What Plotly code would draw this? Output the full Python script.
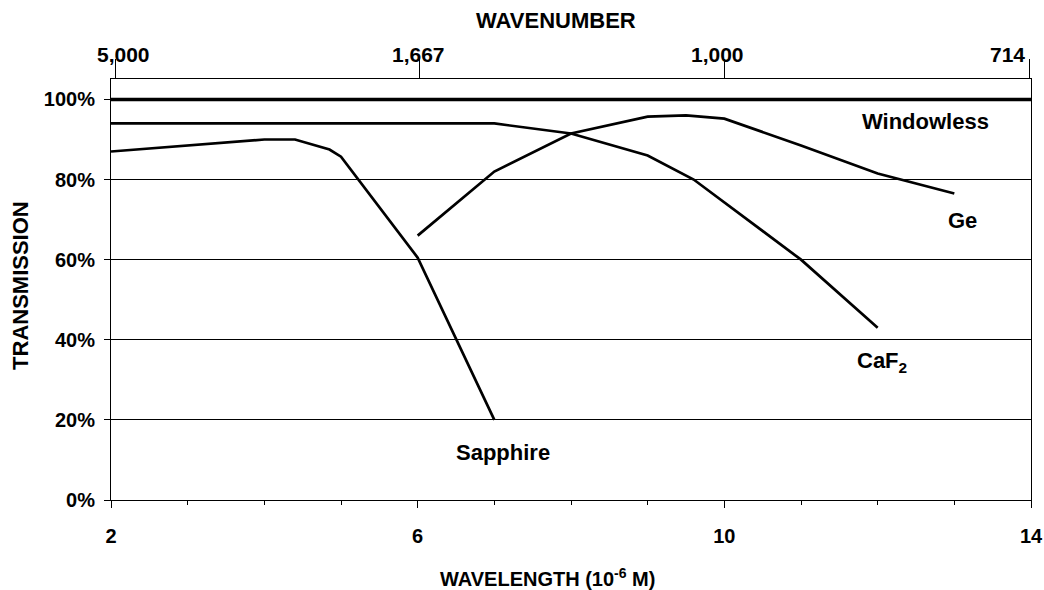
import plotly.graph_objects as go

# ---- data ----
wavelength_ticks = [2, 6, 10, 14]
wavenumber_labels = ["5,000", "1,667", "1,000", "714"]
transmission_ticks = [0, 20, 40, 60, 80, 100]

windowless_x = [2, 14]
windowless_y = [100, 100]

sapphire_x = [2, 3, 4, 4.4, 4.85, 5, 6, 7]
sapphire_y = [87, 88.5, 90, 90, 87.5, 85.7, 60.5, 20]

caf2_x = [2, 7, 8, 9, 9.6, 11, 12]
caf2_y = [94, 94, 91.5, 86, 80, 60, 43]

ge_x = [6, 7, 8, 9, 9.5, 10, 11, 12, 13]
ge_y = [66, 82, 91.5, 95.7, 96, 95.2, 88.5, 81.5, 76.5]

series_labels = ["Windowless", "Ge", "CaF<sub>2</sub>", "Sapphire"]
label_x = [12.62, 13.10, 12.06, 7.11]
label_y = [94.6, 69.9, 34.5, 11.9]

FONT = "Liberation Sans, Arial, sans-serif"
FS = 20
FL = 22

fig = go.Figure()
fig.add_trace(go.Scatter(x=windowless_x, y=windowless_y, mode="lines",
                         line=dict(color="black", width=3.5), showlegend=False, hoverinfo="skip"))
fig.add_trace(go.Scatter(x=sapphire_x, y=sapphire_y, mode="lines",
                         line=dict(color="black", width=2.7), showlegend=False))
fig.add_trace(go.Scatter(x=caf2_x, y=caf2_y, mode="lines",
                         line=dict(color="black", width=2.7), showlegend=False))
fig.add_trace(go.Scatter(x=ge_x, y=ge_y, mode="lines",
                         line=dict(color="black", width=2.7), showlegend=False))
# invisible trace to carry the top wavenumber axis
fig.add_trace(go.Scatter(x=wavelength_ticks, y=[0] * len(wavelength_ticks), xaxis="x2",
                         mode="markers", marker=dict(opacity=0, size=1), hoverinfo="skip", showlegend=False))

annotations = []
for t, x, y in zip(series_labels, label_x, label_y):
    annotations.append(dict(text="<b>%s</b>" % t, x=x, y=y, xref="x", yref="y", showarrow=False,
                            xanchor="center", yanchor="middle", font=dict(family=FONT, size=FL, color="black")))

top_shift = [12, 1, -7, -24]
for t, x, s in zip(wavenumber_labels, wavelength_ticks, top_shift):
    annotations.append(dict(text="<b>%s</b>" % t, x=x, y=1.058, xref="x", yref="paper", showarrow=False,
                            xanchor="center", yanchor="middle", xshift=s,
                            font=dict(family=FONT, size=21, color="black")))

annotations.append(dict(text="<b>WAVENUMBER</b>", x=0.4835, y=1.140, xref="paper", yref="paper",
                        showarrow=False, xanchor="center", yanchor="middle",
                        font=dict(family=FONT, size=FL, color="black")))
annotations.append(dict(text="<b>WAVELENGTH (10<sup>-6</sup> M)</b>", x=0.4747, y=-0.183, xref="paper",
                        yref="paper", showarrow=False, xanchor="center", yanchor="middle",
                        font=dict(family=FONT, size=FS, color="black")))
annotations.append(dict(text="<b>TRANSMISSION</b>", x=-0.0982, y=0.51, xref="paper", yref="paper",
                        showarrow=False, xanchor="center", yanchor="middle", textangle=-90,
                        font=dict(family=FONT, size=FL, color="black")))

fig.update_layout(
    width=1044, height=590,
    margin=dict(l=111, r=13, t=79, b=90, autoexpand=False),
    paper_bgcolor="white", plot_bgcolor="white",
    font=dict(family=FONT, size=FS, color="black"),
    annotations=annotations,
    xaxis=dict(range=[2, 14], tickmode="array", tickvals=wavelength_ticks,
               ticktext=["<b>%d</b>" % v for v in wavelength_ticks],
               ticks="outside", ticklen=7, tickwidth=1, tickcolor="black",
               minor=dict(tickmode="linear", tick0=2, dtick=1, ticks="outside", ticklen=4,
                          tickcolor="black", tickwidth=1, showgrid=False),
               showline=True, linecolor="black", linewidth=1, mirror=True, automargin=False,
               showgrid=False, zeroline=False, ticklabelstandoff=11,
               tickfont=dict(family=FONT, size=FS, color="black")),
    xaxis2=dict(overlaying="x", side="top", range=[1.942, 14.026], tickmode="array",
                tickvals=wavelength_ticks, showticklabels=False, ticks="outside", ticklen=19,
                tickwidth=1, tickcolor="black", showgrid=False, showline=False, zeroline=False,
                automargin=False),
    yaxis=dict(range=[0, 105.1], tickmode="array", tickvals=transmission_ticks,
               ticktext=["<b>%d%%</b>" % v for v in transmission_ticks],
               ticks="outside", ticklen=6, tickwidth=1, tickcolor="black",
               showgrid=True, gridcolor="black", gridwidth=1,
               showline=True, linecolor="black", linewidth=1, mirror=True,
               zeroline=False, ticklabelstandoff=5, automargin=False,
               tickfont=dict(family=FONT, size=FS, color="black")),
)

fig.write_html("out.html", config={"displayModeBar": False},
               post_script="document.body.style.margin='0';document.body.style.overflow='hidden';")
